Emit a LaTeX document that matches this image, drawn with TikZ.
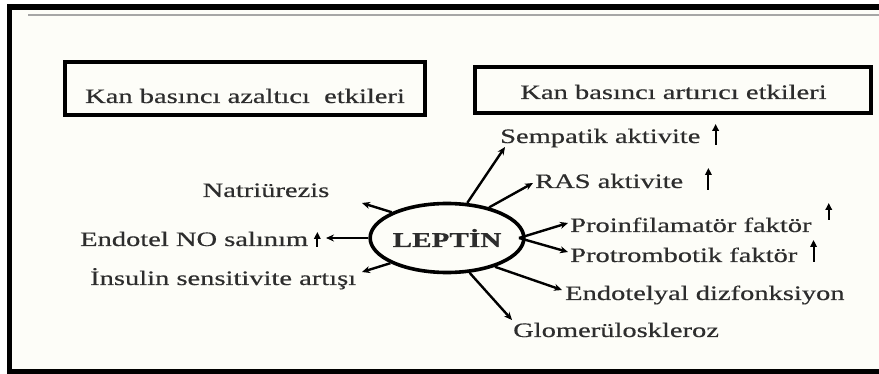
\documentclass[tikz,border=0pt]{standalone}
\usepackage{fontspec}
\setmainfont{Liberation Serif}[FakeStretch=1.39,FakeBold=0.5]
\usetikzlibrary{arrows.meta,shapes.geometric}
\definecolor{bgpaper}{RGB}{253,253,248}
\definecolor{inkc}{RGB}{45,45,45}
\tikzset{
  boxframe/.style={draw=black, line width=4pt, rectangle, inner sep=0pt},
  lbl/.style={text=inkc, inner sep=0pt, font=\fontsize{20.5pt}{24pt}\selectfont},
  leptinnode/.style={draw=black, line width=3.6pt, ellipse, inner sep=0pt,
     minimum width=138pt, minimum height=69pt, text=inkc,
     font=\fontsize{21pt}{24pt}\selectfont\bfseries},
  conn/.style={draw=black, line width=2.4pt, -{Stealth[length=8pt,width=7pt]}},
  uparr/.style={draw=black, line width=2pt, -{Triangle[length=7pt,width=6.5pt]}}
}
\begin{document}
\begin{tikzpicture}[x=1pt,y=-1pt]
\useasboundingbox (0,0) rectangle (879,374);
% background and frame
\fill[white] (0,0) rectangle (879,374);
\fill[bgpaper] (12,10) rectangle (879,369);
\fill[black] (7,4) rectangle (879,10);
\fill[black] (7,4) rectangle (12,374);
\fill[black] (7,369) rectangle (879,374);
\draw[gray!70, line width=1.5pt] (28,15) -- (879,15);

% header boxes
\node[boxframe, minimum width=360pt, minimum height=53pt] (lbox) at (245,89) {};
\node[lbl, anchor=base] (ltext) at (245,103) {Kan basıncı azaltıcı~ etkileri};
\node[boxframe, minimum width=396pt, minimum height=46pt] (rbox) at (673,90.5) {};
\node[lbl, anchor=base] (rtext) at (673.5,99) {Kan basıncı artırıcı etkileri};

% center
\node[leptinnode] (lep) at (447,238) {LEPTİN};

% left labels
\node[lbl, anchor=base] (natr) at (266,197) {Natriürezis};
\node[lbl, anchor=base west] (endno) at (80,246) {Endotel NO salınım};
\node[lbl, anchor=base west] (insul) at (90,285) {İnsulin sensitivite artışı};

% right labels
\node[lbl, anchor=base west] (symp) at (500,143) {Sempatik aktivite};
\node[lbl, anchor=base west] (ras) at (535,188) {RAS aktivite};
\node[lbl, anchor=base west] (proinf) at (570,232) {Proinfilamatör faktör};
\node[lbl, anchor=base west] (protr) at (570,262) {Protrombotik faktör};
\node[lbl, anchor=base west] (endo) at (565,300) {Endotelyal dizfonksiyon};
\node[lbl, anchor=base west] (glom) at (513,337) {Glomerüloskleroz};

% arrow tips (free ends)
\coordinate (tnatr) at (362,203);
\coordinate (tendno) at (326,238);
\coordinate (tinsul) at (362,272);
\coordinate (tsymp) at (505,147);
\coordinate (tras) at (533,183);
\coordinate (tproinf) at (568,223);
\coordinate (tprotr) at (568,252);
\coordinate (tendo) at (562,290);
\coordinate (tglom) at (512,320);
\coordinate (rhub) at (519,238);

% connectors
\draw[conn] (lep.155) -- (tnatr);
\draw[conn] (lep.west) -- (tendno);
\draw[conn] (lep.204) -- (tinsul);
\draw[conn] (lep.60) -- (tsymp);
\draw[conn] (lep.36) -- (tras);
\draw[conn] (rhub) -- (tproinf);
\draw[conn] (rhub) -- (tprotr);
\draw[conn] (lep.-31) -- (tendo);
\draw[conn] (lep.-57) -- (tglom);

% up arrows (increase marks)
\draw[uparr] ([xshift=9pt,yshift=-1pt]endno.base east) -- ++(0,-15);
\draw[uparr] ([xshift=15pt,yshift=-2pt]symp.base east) -- ++(0,-21);
\draw[uparr] ([xshift=25pt,yshift=-2pt]ras.base east) -- ++(0,-22);
\draw[uparr] ([xshift=17pt,yshift=12pt]proinf.base east) -- ++(0,-17);
\draw[uparr] ([xshift=16pt]protr.base east) -- ++(0,-22);
\end{tikzpicture}
\end{document}
